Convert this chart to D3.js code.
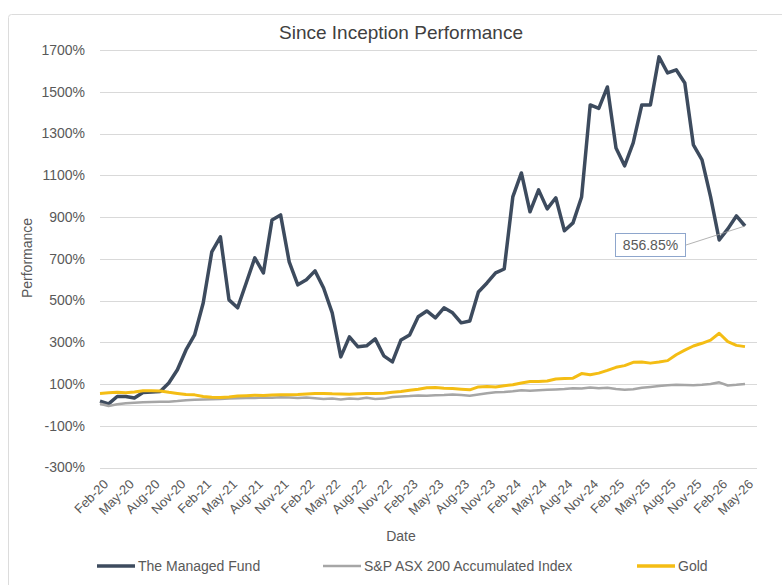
<!DOCTYPE html>
<html>
<head>
<meta charset="utf-8">
<script src="https://cdn.jsdelivr.net/npm/d3@7"></script>
<style>
  body { margin: 0; background: #fff; }
  text { font-family: "Liberation Sans", Arial, sans-serif; }
</style>
</head>
<body>
<div id="chart"></div>
<script>
var months = [
  "Feb-20","Mar-20","Apr-20","May-20","Jun-20","Jul-20","Aug-20","Sep-20","Oct-20","Nov-20","Dec-20",
  "Jan-21","Feb-21","Mar-21","Apr-21","May-21","Jun-21","Jul-21","Aug-21","Sep-21","Oct-21","Nov-21","Dec-21",
  "Jan-22","Feb-22","Mar-22","Apr-22","May-22","Jun-22","Jul-22","Aug-22","Sep-22","Oct-22","Nov-22","Dec-22",
  "Jan-23","Feb-23","Mar-23","Apr-23","May-23","Jun-23","Jul-23","Aug-23","Sep-23","Oct-23","Nov-23","Dec-23",
  "Jan-24","Feb-24","Mar-24","Apr-24","May-24","Jun-24","Jul-24","Aug-24","Sep-24","Oct-24","Nov-24","Dec-24",
  "Jan-25","Feb-25","Mar-25","Apr-25","May-25","Jun-25","Jul-25","Aug-25","Sep-25","Oct-25","Nov-25","Dec-25",
  "Jan-26","Feb-26","Mar-26","Apr-26","May-26"
];

var fund = [18, 5, 40, 40, 33, 59, 62, 64, 105, 168,
  263, 335, 488, 733, 805, 503, 465, 584, 704, 632,
  886, 910, 685, 575, 599, 642, 560, 441, 230, 326,
  278, 283, 316, 235, 206, 311, 335, 422, 450, 417,
  465, 441, 393, 402, 541, 584, 632, 651, 996, 1111,
  925, 1030, 939, 992, 834, 872, 996, 1437, 1420, 1523,
  1231, 1145, 1255, 1437, 1437, 1667, 1590, 1605, 1542, 1245,
  1174, 996, 790, 843, 905, 856.85];

var asx = [5, -5, 3, 8, 10, 12, 14, 15, 15, 18,
  22, 24, 26, 27, 28, 30, 32, 33, 33, 35,
  34, 36, 35, 33, 35, 32, 28, 30, 26, 30,
  28, 34, 28, 30, 38, 40, 42, 45, 44, 46,
  47, 50, 47, 44, 50, 56, 60, 62, 65, 70,
  68, 70, 72, 74, 76, 80, 78, 83, 80, 82,
  76, 72, 75, 82, 86, 90, 94, 96, 95, 94,
  96, 100, 108, 93, 96, 100];

var gold = [55, 58, 60, 58, 62, 68, 68, 66, 60, 55,
  50, 48, 40, 36, 35, 38, 42, 44, 46, 45,
  47, 48, 49, 50, 52, 54, 55, 53, 52, 51,
  53, 54, 55, 56, 60, 64, 70, 75, 82, 83,
  80, 78, 75, 72, 86, 88, 86, 92, 96, 105,
  112, 112, 114, 124, 126, 128, 150, 144, 152, 165,
  180, 188, 204, 205, 200, 205, 212, 240, 262, 282,
  295, 310, 343, 303, 285, 279];

var tickLabels = ["Feb-20","May-20","Aug-20","Nov-20","Feb-21","May-21","Aug-21","Nov-21",
  "Feb-22","May-22","Aug-22","Nov-22","Feb-23","May-23","Aug-23","Nov-23",
  "Feb-24","May-24","Aug-24","Nov-24","Feb-25","May-25","Aug-25","Nov-25","Feb-26","May-26"];

var yTicks = [-300, -100, 100, 300, 500, 700, 900, 1100, 1300, 1500, 1700];

var seriesNames = ["The Managed Fund", "S&P ASX 200 Accumulated Index", "Gold"];
var seriesColors = ["#3d4b5e", "#a6a6a6", "#f4bd14"];

var lastLabel = "856.85%";

var W = 782, H = 585;
var svg = d3.select("#chart").append("svg")
  .attr("width", W)
  .attr("height", H);

// outer frame
svg.append("rect")
  .attr("x", 8.5).attr("y", 14.5)
  .attr("width", 800).attr("height", 600)
  .attr("rx", 3)
  .attr("fill", "none")
  .attr("stroke", "#dcdcdc");

var x = d3.scalePoint().domain(months).range([100, 745]);
var y = d3.scaleLinear().domain([-300, 1700]).range([467.5, 50]);

// gridlines
svg.append("g").selectAll("line")
  .data(yTicks.concat([0]))
  .enter().append("line")
  .attr("x1", 100).attr("x2", 757)
  .attr("y1", function(d) { return Math.round(y(d)) + 0.5; })
  .attr("y2", function(d) { return Math.round(y(d)) + 0.5; })
  .attr("stroke", "#d9d9d9")
  .attr("stroke-width", 1);

// y axis labels
var yAxis = d3.axisLeft(y).tickValues(yTicks)
  .tickFormat(function(d) { return d + "%"; })
  .tickSize(0).tickPadding(0);
svg.append("g")
  .attr("transform", "translate(85,0)")
  .call(yAxis)
  .call(function(g) { g.select(".domain").remove(); })
  .selectAll("text")
  .attr("font-size", 14)
  .attr("font-family", "Liberation Sans, Arial, sans-serif")
  .attr("fill", "#595959");

// x axis labels
svg.append("g").selectAll("text")
  .data(tickLabels)
  .enter().append("text")
  .attr("transform", function(d) { return "translate(" + (x(d) + 9) + ",485) rotate(-45)"; })
  .attr("text-anchor", "end")
  .attr("font-size", 13)
  .attr("fill", "#595959")
  .text(function(d) { return d; });

// axis titles
svg.append("text")
  .attr("x", 401).attr("y", 541)
  .attr("text-anchor", "middle")
  .attr("font-size", 14)
  .attr("fill", "#595959")
  .text("Date");

svg.append("text")
  .attr("transform", "translate(32,258) rotate(-90)")
  .attr("text-anchor", "middle")
  .attr("font-size", 14)
  .attr("fill", "#595959")
  .text("Performance");

// title
svg.append("text")
  .attr("x", 401).attr("y", 39)
  .attr("text-anchor", "middle")
  .attr("font-size", 19)
  .attr("fill", "#404040")
  .text("Since Inception Performance");

// lines
var line = d3.line()
  .x(function(d, i) { return x(months[i]); })
  .y(function(d) { return y(d); });

var allSeries = [fund, asx, gold];
var widths = [3.5, 2.5, 3];
allSeries.forEach(function(s, k) {
  svg.append("path")
    .datum(s)
    .attr("d", line)
    .attr("fill", "none")
    .attr("stroke", seriesColors[k])
    .attr("stroke-width", widths[k])
    .attr("stroke-linejoin", "round");
});

// data label on last fund point
var lastX = x(months[months.length - 1]);
var lastY = y(fund[fund.length - 1]);
svg.append("line")
  .attr("x1", 686).attr("y1", 245)
  .attr("x2", lastX).attr("y2", lastY)
  .attr("stroke", "#a0a0a0")
  .attr("stroke-width", 0.8);
svg.append("rect")
  .attr("x", 615.5).attr("y", 233.5)
  .attr("width", 70).attr("height", 23)
  .attr("fill", "#fff")
  .attr("stroke", "#8ea6cc");
svg.append("text")
  .attr("x", 650.5).attr("y", 250)
  .attr("text-anchor", "middle")
  .attr("font-size", 14)
  .attr("fill", "#595959")
  .text(lastLabel);

// legend
var legendX = [97, 323, 637];
var legend = svg.append("g").selectAll("g")
  .data(seriesNames)
  .enter().append("g")
  .attr("transform", function(d, i) { return "translate(" + legendX[i] + ",566)"; });
legend.append("line")
  .attr("x1", 0).attr("x2", 38)
  .attr("y1", 0).attr("y2", 0)
  .attr("stroke", function(d, i) { return seriesColors[i]; })
  .attr("stroke-width", function(d, i) { return i === 1 ? 2.5 : 3.5; });
legend.append("text")
  .attr("x", 41).attr("y", 5)
  .attr("font-size", 14)
  .attr("fill", "#595959")
  .text(function(d) { return d; });
</script>
</body>
</html>
